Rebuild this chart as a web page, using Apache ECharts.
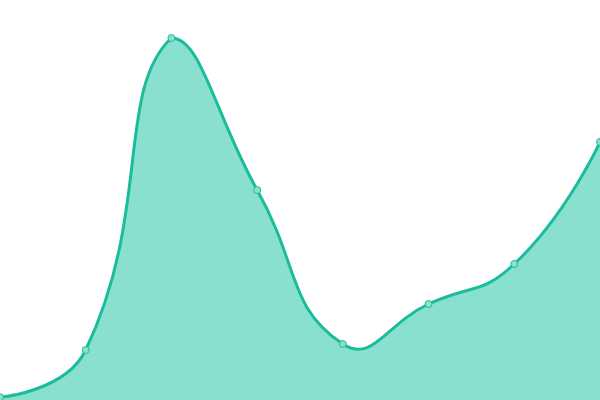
<!DOCTYPE html>
<html>
<head>
<meta charset="utf-8">
<script src="https://cdn.jsdelivr.net/npm/echarts@6/dist/echarts.min.js"></script>
<style>
html, body { margin: 0; padding: 0; background: #fff; }
#areaChart { width: 600px; height: 400px; }
</style>
</head>
<body>
<div id="areaChart"></div>
<script>
var categories = ['1', '2', '3', '4', '5', '6', '7', '8'];
var values = [0.7, 12.5, 90.5, 52.5, 14, 24, 34, 64.5];
var yMin = 0;
var yMax = 100;
var smooth = 0.5;

var points = values.map(function (v, i) { return [i, v]; });

// smooth curve: control points along (next - prev), split by segment lengths,
// kept inside the bounding box of the points
function curvePath(px) {
	var n = px.length;
	var minX = Infinity, maxX = -Infinity, minY = Infinity, maxY = -Infinity;
	px.forEach(function (p) {
		minX = Math.min(minX, p[0]); maxX = Math.max(maxX, p[0]);
		minY = Math.min(minY, p[1]); maxY = Math.max(maxY, p[1]);
	});
	function clamp(c) {
		return [Math.min(Math.max(c[0], minX), maxX), Math.min(Math.max(c[1], minY), maxY)];
	}
	var before = [], after = [];
	for (var i = 0; i < n; i++) {
		var p = px[i];
		if (i === 0 || i === n - 1) {
			before.push(p);
			after.push(p);
			continue;
		}
		var prev = px[i - 1], next = px[i + 1];
		var vx = next[0] - prev[0], vy = next[1] - prev[1];
		var d0 = Math.hypot(p[0] - prev[0], p[1] - prev[1]);
		var d1 = Math.hypot(next[0] - p[0], next[1] - p[1]);
		var r = d1 / (d0 + d1);
		before.push(clamp([p[0] - vx * smooth * (1 - r), p[1] - vy * smooth * (1 - r)]));
		after.push(clamp([p[0] + vx * smooth * r, p[1] + vy * smooth * r]));
	}
	var d = 'M' + px[0][0] + ' ' + px[0][1];
	for (var j = 1; j < n; j++) {
		d += ' C' + after[j - 1][0] + ' ' + after[j - 1][1] + ' ' + before[j][0] + ' ' + before[j][1] + ' ' + px[j][0] + ' ' + px[j][1];
	}
	return d;
}

function renderArea(params, api) {
	if (params.dataIndex !== 0) return null;
	var px = points.map(function (p) { return api.coord(p); });
	var base = api.coord([0, yMin])[1];
	var line = curvePath(px);
	var area = line + ' L' + px[px.length - 1][0] + ' ' + base + ' L' + px[0][0] + ' ' + base + ' Z';
	return {
		type: 'group',
		children: [{
			type: 'path',
			shape: { pathData: area },
			style: { fill: '#8ae0cf', stroke: null }
		}, {
			type: 'path',
			shape: { pathData: line },
			style: { fill: null, stroke: '#1abc9c', lineWidth: 3 }
		}]
	};
}

var areaChart = echarts.init(document.getElementById("areaChart"));
var areaOption = {
	animation: false,
	grid: {
		left: 0,
		right: 0,
		top: 0,
		bottom: 0
	},
	xAxis: {
		type: 'category',
		boundaryGap: false,
		show: false,
		data: categories
	},
	yAxis: {
		type: 'value',
		show: false,
		min: yMin,
		max: yMax
	},
	series: [{
		type: 'custom',
		data: points,
		renderItem: renderArea,
		clip: false,
		z: 1
	}, {
		type: 'scatter',
		data: points,
		symbol: 'circle',
		symbolSize: 7,
		itemStyle: {
			color: '#8ae0cf',
			borderColor: '#1abc9c',
			borderWidth: 1,
			opacity: 1
		},
		z: 2
	}]
};
areaChart.setOption(areaOption, true);
</script>
</body>
</html>
